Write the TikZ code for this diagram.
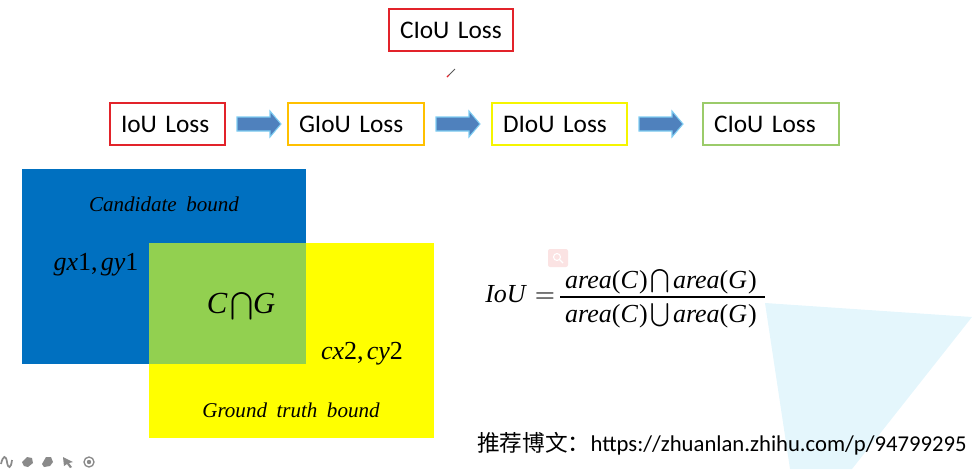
\documentclass[tikz,border=0pt]{standalone}
\usepackage{mathptmx}
\usepackage{fontspec}
\setmainfont{Liberation Serif}
\newfontfamily\boxfont{Carlito}
\newfontfamily\cjk{Noto Sans CJK SC}
\usetikzlibrary{calc}
\definecolor{boxred}{HTML}{E2232A}
\definecolor{boxorange}{HTML}{FFC000}
\definecolor{boxyellow}{HTML}{F5F500}
\definecolor{boxgreen}{HTML}{9BCB6A}
\definecolor{arrowfill}{HTML}{4F81BD}
\definecolor{arrowedge}{HTML}{7FCDF2}
\definecolor{candblue}{HTML}{0070C0}
\definecolor{gtyellow}{HTML}{FFFF00}
\definecolor{overlapgreen}{HTML}{92D050}
\definecolor{wmcyan}{HTML}{E4F6FC}
\definecolor{iconpink}{HTML}{FBE3E3}
\definecolor{icongray}{HTML}{8A8A8A}
\tikzset{
  lossbox/.style={draw=#1, line width=1.5pt, anchor=north west, align=left,
    inner xsep=8.25pt, inner ysep=0pt, minimum height=31.5pt,
    font=\boxfont\fontsize{19}{22}\selectfont},
  blockarrow/.style={fill=arrowfill, draw=arrowedge, line width=0.8pt, line join=miter},
  itlabel/.style={font=\itshape\fontsize{15.8}{19}\selectfont, inner sep=0pt},
  mathlabel/.style={font=\fontsize{19.5}{23}\selectfont, inner sep=0pt},
  formulapart/.style={font=\fontsize{19.5}{22}\selectfont, inner sep=0pt, anchor=base},
  toolicon/.style={fill=icongray, draw=none}
}
\newcommand\blockarrowfrom[1]{%
  \path[blockarrow] ([xshift=8.25pt]#1.east) ++(0,-7) -- ++(33,0) -- ++(0,-6)
    -- ++(11,13) -- ++(-11,13) -- ++(0,-6) -- ++(-33,0) -- cycle;}
\newcommand\mv[1]{\textit{#1}}
\newcommand\areaof[1]{\mv{area}(\mv{#1}\kern0.04em)}
\begin{document}
\begin{tikzpicture}[x=0.75pt,y=-0.75pt]
\useasboundingbox (0,0) rectangle (978,469);
% watermark triangle
\fill[wmcyan] (765,303) -- (972,317) -- (852,469) -- (790,469) -- cycle;

% top CIoU box
\node[lossbox=boxred, text width=76.5pt] (ciouTop) at (388,8) {CIoU Loss};
% pen cursor
\draw[gray!70!black, line width=0.7pt] (449,75) -- (455,69);
\draw[boxred, line width=0.9pt] (447,77) -- (449,75);

% chain of boxes
\node[lossbox=boxred, text width=69.75pt] (iou) at (109,102) {IoU Loss};
\node[lossbox=boxorange, text width=85.5pt] (giou) at (287,102) {GIoU Loss};
\node[lossbox=boxyellow, text width=84.75pt] (diou) at (491,102) {DIoU Loss};
\node[lossbox=boxgreen, text width=85.5pt] (ciou) at (702,102) {CIoU Loss};
\blockarrowfrom{iou}
\blockarrowfrom{giou}
\blockarrowfrom{diou}

% rectangles
\fill[candblue] (22,169) rectangle (306,364);
\fill[gtyellow] (149,243) rectangle (434,438);
\fill[overlapgreen] (149,243) rectangle (306,364);

\node[itlabel] (cand) at (164,204) {Candidate\hspace{0.45em}bound};
\node[mathlabel] (g1) at (96,265) {\mv{gx}1,\kern0.12em\mv{gy}1};
\node[font=\fontsize{23}{26}\selectfont, inner sep=0pt] (cap) at (241,306) {\mv{C}\kern0.08em$\bigcap$\mv{G}};
\node[mathlabel] (c2) at (362,354) {\mv{cx}2,\kern0.12em\mv{cy}2};
\node[itlabel] (gt) at (291,410) {Ground\hspace{0.45em}truth\hspace{0.45em}bound};

% small pink icon
\fill[iconpink, rounded corners=1.5pt] (548,249) rectangle (568,267);
\draw[white, line width=0.8pt] (557,257) circle (3.5) (560,260) -- (563,263);

% formula
\node[formulapart, anchor=base west] (lhs) at (485,302) {\mv{IoU}\kern0.3em$=$};
\node[formulapart] (num) at (661,288) {\areaof{C}$\,\bigcap\,$\areaof{G}};
\node[formulapart] (den) at (661,322) {\areaof{C}$\,\bigcup\,$\areaof{G}};
\draw[line width=0.9pt] (560,297) coordinate (barL) -- (765,297) coordinate (barR);

% bottom text
\node[anchor=west, inner sep=0pt] (ref) at (477,444)
  {{\cjk\fontsize{17}{20}\selectfont 推荐博文：}{\boxfont\fontsize{17}{20}\selectfont https://zhuanlan.zhihu.com/p/94799295}};

% toolbar icons
\draw[icongray, line width=1.3pt] (1,464) .. controls (3,455) and (6,455) .. (7,462)
  .. controls (8,469) and (11,469) .. (12,460);
\path[toolicon] (22,462) -- (27,457) -- (32,458) -- (33,463) -- (28,467) -- (24,466) -- cycle;
\path[toolicon] (42,464) -- (46,457) -- (51,457) -- (53,462) -- (50,466) -- (44,467) -- cycle;
\path[toolicon] (63,457) -- (73,462) -- (69,463) -- (72,467) -- (70,468) -- (67,464) -- (64,466) -- cycle;
\draw[icongray, line width=1pt] (89,462) circle (5);
\fill[icongray] (89,462) circle (2.2);
\end{tikzpicture}
\end{document}
